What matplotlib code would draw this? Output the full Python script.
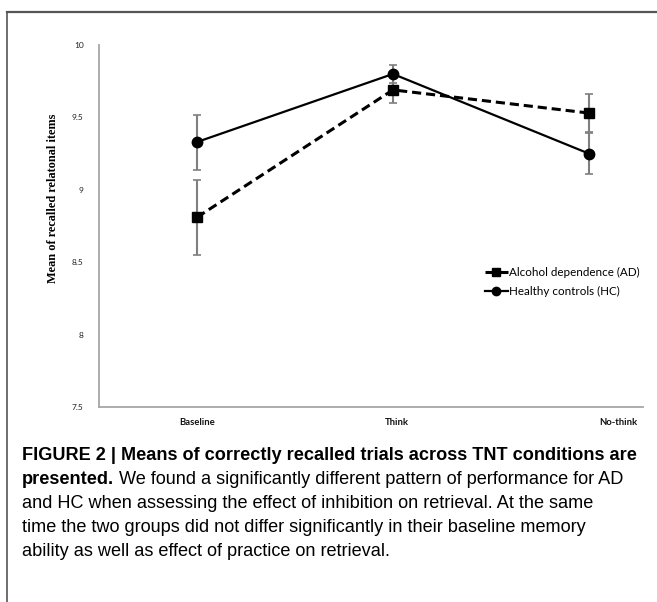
import matplotlib
matplotlib.use("Agg")
import matplotlib.pyplot as plt
import matplotlib.transforms as mtransforms
from matplotlib.lines import Line2D

categories = ["Baseline", "Think", "No-think"]
ad_means = [8.81, 9.69, 9.53]
ad_err = [0.26, 0.09, 0.13]
hc_means = [9.33, 9.80, 9.25]
hc_err = [0.19, 0.065, 0.14]
yticks = [7.5, 8, 8.5, 9, 9.5, 10]
ytick_labels = ["7.5", "8", "8.5", "9", "9.5", "10"]
legend_labels = ["Alcohol dependence (AD)", "Healthy controls (HC)"]
ylabel = "Mean of recalled relatonal items"
caption_bold1 = "FIGURE 2 | Means of correctly recalled trials across TNT conditions are"
caption_bold2 = "presented."
caption_rest = [" We found a significantly different pattern of performance for AD",
                "and HC when assessing the effect of inhibition on retrieval. At the same",
                "time the two groups did not differ significantly in their baseline memory",
                "ability as well as effect of practice on retrieval."]

W, H = 657, 602
fig = plt.figure(figsize=(W / 100, H / 100), dpi=100)
fig.patch.set_facecolor("white")

# frame lines (top and left)
fig.add_artist(Line2D([7 / W, 1.0], [1 - 12 / H, 1 - 12 / H], color="#555555", lw=1.6))
fig.add_artist(Line2D([7 / W, 7 / W], [1 - 12 / H, 0.0], color="#555555", lw=1.2))

ax = fig.add_axes([99 / W, 1 - 407 / H, 544 / W, 362 / H])
x = list(range(len(categories)))

ax.errorbar(x, ad_means, yerr=ad_err, fmt="none", ecolor="#7f7f7f", elinewidth=1.5,
            capsize=3, capthick=1.2, zorder=2)
ax.errorbar(x, hc_means, yerr=hc_err, fmt="none", ecolor="#7f7f7f", elinewidth=1.5,
            capsize=3, capthick=1.2, zorder=2)
l1, = ax.plot(x, ad_means, color="black", lw=2.2, ls=(0, (3, 1.6)), marker="s",
              ms=7, zorder=3, label=legend_labels[0])
l2, = ax.plot(x, hc_means, color="black", lw=1.6, ls="-", marker="o", ms=7.5,
              zorder=3, label=legend_labels[1])

ax.set_xlim(-0.5, 2.276)
ax.set_ylim(7.5, 10)
ax.set_yticks(yticks)
ax.set_yticklabels(ytick_labels, fontsize=6, family="Lato", color="#222222")
ax.set_xticks(x)
ax.set_xticklabels(categories, fontsize=6.8, family="Lato", fontweight="bold", color="#111111")
ax.tick_params(axis="both", length=0)
ax.tick_params(axis="y", pad=11)
ax.tick_params(axis="x", pad=8)
offsets = [0, 4, 29]
for lab, off in zip(ax.get_xticklabels(), offsets):
    lab.set_transform(lab.get_transform() + mtransforms.ScaledTranslation(off / 100, 0, fig.dpi_scale_trans))

for s in ["top", "right"]:
    ax.spines[s].set_visible(False)
for s in ["left", "bottom"]:
    ax.spines[s].set_color("#a6a6a6")
    ax.spines[s].set_linewidth(1.3)

fig.text(53 / W, 1 - 198 / H, ylabel, rotation=90, ha="center", va="center",
         family="Liberation Serif", fontweight="bold", fontsize=8.8)

leg = fig.legend(handles=[l1, l2], loc="center left", bbox_to_anchor=(474 / W, 1 - 282 / H),
                 frameon=False, prop={"family": "Lato", "size": 8.4}, handlelength=2.0,
                 handletextpad=0.1, labelspacing=0.75, markerscale=0.8)

cap_font = ["Liberation Sans Narrow", "Liberation Sans"]
cap_size = 13.1
y0 = 1 - 455 / H
dy = 24 / H
fig.text(22 / W, y0, caption_bold1, family=cap_font, fontweight="bold", fontsize=cap_size,
         va="center", ha="left")
t2 = fig.text(22 / W, y0 - dy, caption_bold2, family=cap_font, fontweight="bold", fontsize=cap_size,
              va="center", ha="left")
fig.canvas.draw()
bb = t2.get_window_extent()
fig.text(bb.x1 / W, y0 - dy, caption_rest[0], family=cap_font, fontsize=cap_size, va="center", ha="left")
for i, line in enumerate(caption_rest[1:]):
    fig.text(22 / W, y0 - dy * (i + 2), line, family=cap_font, fontsize=cap_size, va="center", ha="left")

fig.savefig("out.png", dpi=100)
